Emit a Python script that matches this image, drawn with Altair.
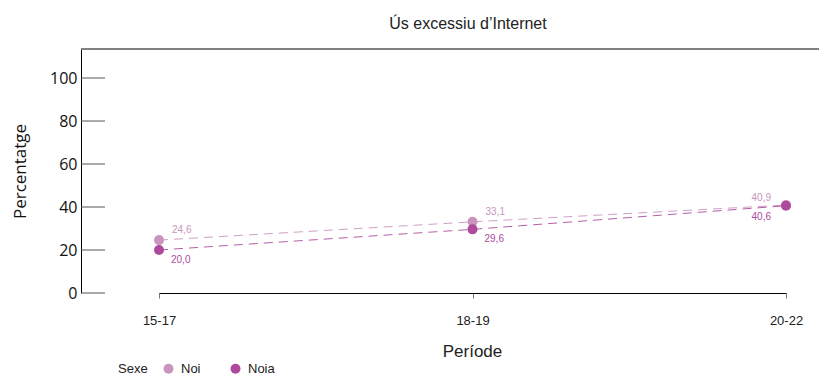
import altair as alt
import pandas as pd

periods = ["15-17", "18-19", "20-22"]
noi = [24.6, 33.1, 40.9]
noia = [20.0, 29.6, 40.6]
sexes = ["Noi", "Noia"]
colors = ["#C995BE", "#AE4A9D"]
yticks = [0, 20, 40, 60, 80, 100]

rows = []
for i, p in enumerate(periods):
    rows.append({"Periode": p, "Sexe": "Noi", "v": noi[i], "last": i == len(periods) - 1})
    rows.append({"Periode": p, "Sexe": "Noia", "v": noia[i], "last": i == len(periods) - 1})
df = pd.DataFrame(rows)
tdf = pd.DataFrame({"t": yticks})

W, H = 738, 244
LBL = "Liberation Sans"

xenc = alt.X("Periode:N", sort=periods,
             scale=alt.Scale(type="point", range=[78, 705], padding=0),
             axis=alt.Axis(title="Període", labelAngle=0, labelFont=LBL, labelFontSize=13,
                           labelColor="#222", labelPadding=16, tickColor="#777", tickSize=5,
                           domainColor="#000", domainWidth=1, titleFont=LBL, titleFontSize=17,
                           titleFontWeight="normal", titleColor="#222", titleX=391, titleY=63,
                           titleAlign="center", titleBaseline="alphabetic"))
yscale = alt.Scale(domain=[0, 113.5], nice=False, zero=True)
yenc = alt.Y("v:Q", scale=yscale,
             axis=alt.Axis(title="Percentatge", values=yticks, ticks=False, grid=False,
                           labelFont="Open Sans", labelFontSize=16, labelColor="#111",
                           labelPadding=4, domainColor="#000", domainWidth=1,
                           titleFont="Open Sans", titleFontSize=17, titleFontWeight="normal",
                           titleColor="#111", titleX=-61, titleY=H / 2, titleAngle=-90,
                           titleAlign="center", titleBaseline="middle"))
color = alt.Color("Sexe:N", sort=sexes, scale=alt.Scale(domain=sexes, range=colors),
                  legend=alt.Legend(orient="none", legendX=37, legendY=313, direction="horizontal",
                                    titleOrient="left", title="Sexe", titleFont=LBL,
                                    titleFontSize=13, titleFontWeight="normal", titleColor="#222",
                                    titlePadding=14, labelFont=LBL, labelFontSize=13,
                                    labelColor="#222", symbolType="circle", symbolSize=100,
                                    symbolStrokeWidth=0, symbolOpacity=1, labelOffset=6,
                                    columnPadding=28, padding=0))

base = alt.Chart(df).encode(x=xenc, y=yenc, color=color)

lines = base.mark_line(strokeDash=[9, 6], strokeWidth=1, opacity=0.9).encode(
    detail="Sexe:N", order=alt.Order("Periode:N"))
points = base.mark_circle(size=100, opacity=1).encode(order=alt.Order("Sexe:N", sort="ascending"))

lab = base.transform_calculate(label="replace(format(datum.v, '.1f'), '.', ',')")
txt_kw = dict(font=LBL, fontSize=10, baseline="middle")
t1 = lab.transform_filter("datum.Sexe == 'Noi' && !datum.last").mark_text(align="left", dx=13, dy=-10, **txt_kw).encode(text="label:N")
t2 = lab.transform_filter("datum.Sexe == 'Noia' && !datum.last").mark_text(align="left", dx=12, dy=10, **txt_kw).encode(text="label:N")
t3 = lab.transform_filter("datum.Sexe == 'Noi' && datum.last").mark_text(align="right", dx=-15, dy=-7, **txt_kw).encode(text="label:N")
t4 = lab.transform_filter("datum.Sexe == 'Noia' && datum.last").mark_text(align="right", dx=-15, dy=11, **txt_kw).encode(text="label:N")

ticks = alt.Chart(tdf).mark_rule(color="#555", strokeWidth=1).encode(
    y=alt.Y("t:Q", scale=yscale), x=alt.value(0), x2=alt.value(24))
top = alt.Chart(tdf).mark_rule(color="#808080", strokeWidth=1.5).encode(
    y=alt.value(0), x=alt.value(0), x2=alt.value(W))

chart = alt.layer(top, ticks, lines, points, t1, t2, t3, t4).properties(
    width=W, height=H,
    title=alt.TitleParams("Ús excessiu d’Internet", font=LBL, fontSize=16, fontWeight="normal",
                          color="#222", anchor="middle", dx=18, offset=3, baseline="alphabetic"),
    autosize=alt.AutoSizeParams(type="none"),
    padding={"left": 73, "top": 41, "right": 0, "bottom": 85},
).configure_view(stroke=None)

chart.save("out.html", embed_options={"renderer": "svg", "actions": False})
